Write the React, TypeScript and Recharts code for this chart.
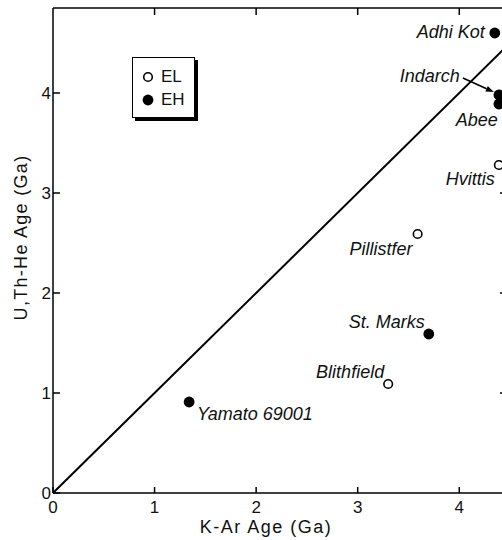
import React from 'react';
import {
  ScatterChart, Scatter, XAxis, YAxis, Legend,
} from 'recharts';

// meteorite names, K-Ar age (Ga), U,Th-He age (Ga), enstatite group
const names = ['Yamato 69001', 'Blithfield', 'St. Marks', 'Pillistfer', 'Hvittis', 'Abee', 'Indarch', 'Adhi Kot'];
const kArAge = [1.34, 3.30, 3.70, 3.59, 4.39, 4.39, 4.39, 4.35];
const uThHeAge = [0.91, 1.09, 1.59, 2.59, 3.28, 3.89, 3.98, 4.60];
const group = ['EH', 'EL', 'EH', 'EL', 'EL', 'EH', 'EH', 'EH'];

const axisTicks = [0, 1, 2, 3, 4];
const frameTicks = [1, 2, 3, 4];
// 1:1 line, drawn against the frame (top/right) axes
const equalAgeK = [0, 4.47];
const equalAgeU = [0, 4.47];

const points = names.map((name, i) => ({ name, k: kArAge[i], u: uThHeAge[i], group: group[i] }));
const elPoints = points.filter((p) => p.group === 'EL');
const ehPoints = points.filter((p) => p.group === 'EH');
const equalAge = equalAgeK.map((k, i) => ({ k, u: equalAgeU[i] }));

const FONT = '"Liberation Sans", Arial, sans-serif';

// where each name sits relative to its point
const labelPlace: Record<string, { dx: number; dy: number; anchor: 'start' | 'end' }> = {
  'Yamato 69001': { dx: 8, dy: 18, anchor: 'start' },
  Blithfield: { dx: -4, dy: -6, anchor: 'end' },
  'St. Marks': { dx: -4, dy: -6, anchor: 'end' },
  Pillistfer: { dx: -5, dy: 21, anchor: 'end' },
  Hvittis: { dx: -4, dy: 20, anchor: 'end' },
  Abee: { dx: -1, dy: 22, anchor: 'end' },
  Indarch: { dx: -39, dy: -13, anchor: 'end' },
  'Adhi Kot': { dx: -10, dy: 5, anchor: 'end' },
};

function PointShape(props: any) {
  const { cx, cy, payload } = props;
  const open = payload.group === 'EL';
  const p = labelPlace[payload.name];
  let arrow = null;
  if (payload.name === 'Indarch') {
    const x1 = cx - 36, y1 = cy - 17, x2 = cx - 5, y2 = cy - 3;
    const len = Math.hypot(x2 - x1, y2 - y1);
    const ux = (x2 - x1) / len, uy = (y2 - y1) / len;
    const bx = x2 - ux * 8, by = y2 - uy * 8;
    arrow = (
      <g>
        <line x1={x1} y1={y1} x2={bx} y2={by} stroke="#000" strokeWidth={1.6} />
        <polygon
          points={`${x2},${y2} ${bx - uy * 3},${by + ux * 3} ${bx + uy * 3},${by - ux * 3}`}
          fill="#000"
        />
      </g>
    );
  }
  return (
    <g>
      <circle cx={cx} cy={cy} r={open ? 4.3 : 5.4} fill={open ? '#fff' : '#000'} stroke="#000" strokeWidth={open ? 1.6 : 0} />
      <text x={cx + p.dx} y={cy + p.dy} textAnchor={p.anchor} fontStyle="italic" fontSize={18} fontFamily={FONT} fill="#111">
        {payload.name}
      </text>
      {arrow}
    </g>
  );
}

const NoShape = () => <g />;

const LeftTick = ({ x, y, payload }: any) => (
  <g>
    <line x1={x} x2={x + 7} y1={y} y2={y} stroke="#000" strokeWidth={1.5} />
    <text x={x - 2} y={y + 6} textAnchor="end" fontSize={17} fontFamily={FONT} fill="#111">{payload.value}</text>
  </g>
);

const BottomTick = ({ x, y, payload }: any) => (
  <g>
    <line x1={x} x2={x} y1={y} y2={y - 6} stroke="#000" strokeWidth={1.5} />
    <text x={x} y={y + 20} textAnchor="middle" fontSize={17} fontFamily={FONT} fill="#111">{payload.value}</text>
  </g>
);

const TopTick = ({ x, y }: any) => (
  <line x1={x} x2={x} y1={y} y2={y + 7} stroke="#000" strokeWidth={1.5} />
);

const RightTick = ({ x, y }: any) => (
  <line x1={x - 7} x2={x} y1={y} y2={y} stroke="#000" strokeWidth={1.5} />
);

function LegendBox() {
  const row = (filled: boolean, text: string) => (
    <div style={{ display: 'flex', alignItems: 'center', height: 23 }}>
      <svg width={14} height={14} style={{ marginRight: 6 }}>
        <circle cx={7} cy={7} r={filled ? 5.4 : 4.3} fill={filled ? '#000' : '#fff'} stroke="#000" strokeWidth={filled ? 0 : 1.6} />
      </svg>
      <span style={{ fontFamily: FONT, fontSize: 17, color: '#111', lineHeight: '17px' }}>{text}</span>
    </div>
  );
  return (
    <div style={{
      width: 63, height: 61, boxSizing: 'border-box', border: '1.5px solid #000',
      boxShadow: '3px 3px 0 #000', background: '#fff', padding: '7px 0 0 8px',
    }}>
      {row(false, 'EL')}
      {row(true, 'EH')}
    </div>
  );
}

export default function App() {
  return (
    <div style={{ position: 'absolute', left: 0, top: 0, width: 502, height: 540, overflow: 'hidden', background: '#fff' }}>
      <ScatterChart width={530} height={540} margin={{ top: 7, right: 22, bottom: 0, left: 0 }}>
        <XAxis
          xAxisId="top" orientation="top" type="number" dataKey="k" domain={[0, 4.47]} ticks={frameTicks}
          height={1} tickSize={0} tickMargin={0} tick={<TopTick />} tickLine={false} interval={0}
          axisLine={{ stroke: '#000', strokeWidth: 1.5 }} allowDataOverflow
        />
        <YAxis
          yAxisId="right" orientation="right" type="number" dataKey="u" domain={[0, 4.85]} ticks={frameTicks}
          width={1} tickSize={0} tickMargin={0} tick={<RightTick />} tickLine={false} interval={0}
          axisLine={{ stroke: '#000', strokeWidth: 1.5 }} allowDataOverflow
        />
        <XAxis
          type="number" dataKey="k" domain={[0, 4.47]} ticks={axisTicks} height={47} interval={0}
          tickSize={0} tickMargin={0} tick={<BottomTick />} tickLine={false}
          axisLine={{ stroke: '#000', strokeWidth: 1.5 }} allowDataOverflow
          label={{
            content: ({ viewBox }: any) => (
              <text
                x={viewBox.x + viewBox.width / 2 - 14} y={viewBox.y + 40} textAnchor="middle"
                fontSize={18} letterSpacing={1.5} fontFamily={FONT} fill="#111"
              >
                K-Ar Age (Ga)
              </text>
            ),
          }}
        />
        <YAxis
          type="number" dataKey="u" domain={[0, 4.85]} ticks={axisTicks} width={53} interval={0}
          tickSize={0} tickMargin={0} tick={<LeftTick />} tickLine={false}
          axisLine={{ stroke: '#000', strokeWidth: 1.5 }} allowDataOverflow
          label={{
            content: ({ viewBox }: any) => {
              const lx = viewBox.x + 27;
              const ly = viewBox.y + viewBox.height / 2 - 13;
              return (
                <text
                  x={lx} y={ly} textAnchor="middle" transform={`rotate(-90, ${lx}, ${ly})`}
                  fontSize={18} letterSpacing={1.3} fontFamily={FONT} fill="#111"
                >
                  U,Th-He Age (Ga)
                </text>
              );
            },
          }}
        />
        <Scatter
          xAxisId="top" yAxisId="right" data={equalAge} shape={NoShape} legendType="none"
          line={{ stroke: '#000', strokeWidth: 2 }} isAnimationActive={false}
        />
        <Scatter name="EL" data={elPoints} shape={PointShape} isAnimationActive={false} />
        <Scatter name="EH" data={ehPoints} shape={PointShape} isAnimationActive={false} />
        <Legend
          layout="vertical" align="center" verticalAlign="middle" content={<LegendBox />}
          wrapperStyle={{ left: 132, top: 57, width: 66, height: 65 }}
        />
      </ScatterChart>
    </div>
  );
}
